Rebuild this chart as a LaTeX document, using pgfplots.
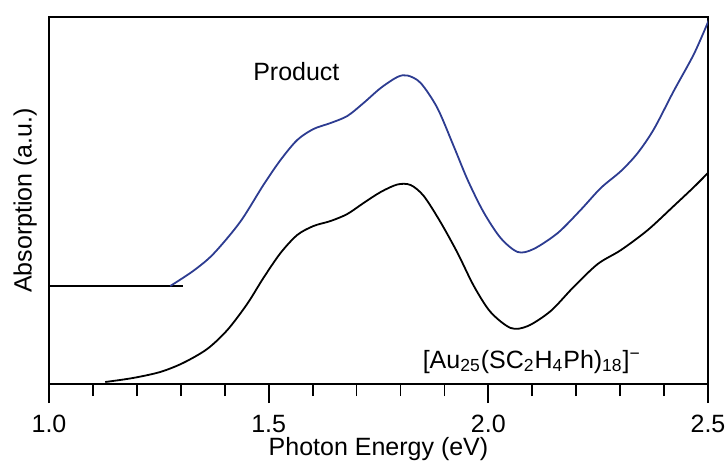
\documentclass[border=0pt]{standalone}
\usepackage{fontspec}
\setmainfont{Liberation Sans}
\usepackage{pgfplots}
\pgfplotsset{compat=1.18}

\definecolor{prodblue}{RGB}{45,60,145}

\begin{document}
\begin{tikzpicture}[font=\fontsize{12.5}{15}\selectfont]
\begin{axis}[
  name=ax,
  scale only axis,
  width=329.5pt, height=183.5pt,
  xmin=1.0, xmax=2.5,
  ymin=0, ymax=367,
  axis line style={line width=0.9pt},
  xtick={1.0,1.5,2.0,2.5},
  minor xtick={1.1,1.2,1.3,1.4,1.6,1.7,1.8,1.9,2.1,2.2,2.3,2.4},
  ytick=\empty,
  xtick pos=bottom,
  tick align=outside,
  major tick length=9.5pt,
  minor tick length=6pt,
  every tick/.style={black, line width=0.9pt},
  /pgf/number format/assume math mode=true,
  /pgf/number format/fixed,
  /pgf/number format/fixed zerofill,
  /pgf/number format/precision=1,
  xticklabel style={font=\fontsize{12.5}{15}\selectfont, inner sep=1pt, yshift=-5pt},
  xlabel={Photon Energy (eV)},
  xlabel style={at={(axis description cs:0.5,0)}, anchor=base, inner sep=0pt,
                yshift=-35.5pt, font=\fontsize{12.5}{15}\selectfont},
  ylabel={Absorption (a.u.)},
  ylabel style={at={(axis description cs:-0.018,0.5)}, anchor=south, inner sep=0pt,
                font=\fontsize{12.5}{15}\selectfont},
]
% baseline of the offset spectrum
\addplot[black, line width=0.9pt] coordinates {(1.0,98) (1.305,98)};

% [Au25(SC2H4Ph)18]- spectrum
\addplot[black, line width=0.9pt, smooth] coordinates {
(1.128,2) (1.191,6) (1.253,12) (1.305,21) (1.360,35) (1.406,54)
(1.451,80) (1.488,106) (1.527,131) (1.565,149) (1.602,158) (1.641,163)
(1.679,170) (1.716,181) (1.755,192) (1.793,199.5) (1.823,199) (1.853,188)
(1.891,162) (1.930,131) (1.967,98) (2.005,72) (2.051,56) (2.090,58)
(2.142,73) (2.194,97) (2.249,120) (2.302,134) (2.363,154) (2.422,178)
(2.468,197) (2.502,212)
};

% product spectrum
\addplot[prodblue, line width=0.9pt, smooth] coordinates {
(1.276,98) (1.328,113) (1.374,130) (1.435,162) (1.488,199) (1.527,224)
(1.565,244) (1.602,255) (1.641,261) (1.679,268) (1.716,281) (1.755,296)
(1.793,307) (1.816,308.5) (1.846,301) (1.884,276) (1.921,238) (1.953,204)
(1.989,172) (2.028,146) (2.067,132) (2.103,135) (2.158,151) (2.210,174)
(2.256,196) (2.302,213) (2.340,231) (2.377,255) (2.422,293) (2.468,330)
(2.502,364)
};

\node[anchor=base] at (axis cs:1.563,304) {Product};
\node[anchor=base] at (axis cs:2.099,16)
  {[Au\textsubscript{25}(SC\textsubscript{2}H\textsubscript{4}Ph)\textsubscript{18}]\textsuperscript{−}};
\end{axis}
\pgfresetboundingbox
\path ([shift={(-24.5pt,-39pt)}]ax.south west) rectangle ([shift={(10pt,8.5pt)}]ax.north east);
\end{tikzpicture}
\end{document}
